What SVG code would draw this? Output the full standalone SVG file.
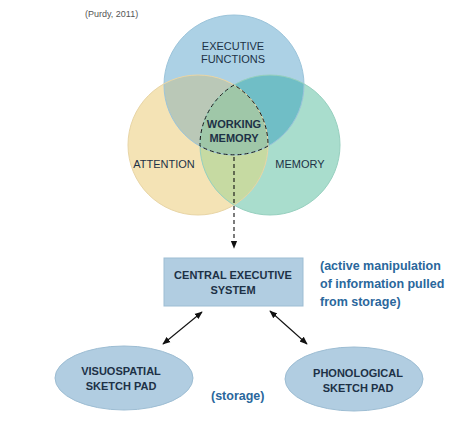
<svg xmlns="http://www.w3.org/2000/svg" width="472" height="424" viewBox="0 0 472 424">
<style>
.lbl{font-family:"Liberation Sans",Arial,sans-serif;font-size:11px;fill:#1d3146;text-anchor:middle}
.bold{font-weight:bold}
.note{font-family:"Liberation Sans",Arial,sans-serif;font-size:12.5px;font-weight:bold;fill:#2a679c}
.shape{fill:#b1cde1;stroke:#9dbdd3;stroke-width:1}
.conn{stroke:#111;stroke-width:1.1;fill:none}
.edge{fill:none;stroke-width:1}
</style>
<defs>
<marker id="ah" viewBox="0 0 10 10" refX="9" refY="5" markerWidth="8" markerHeight="8" orient="auto-start-reverse" markerUnits="userSpaceOnUse">
<path d="M0,1 L10,5 L0,9 Z" fill="#111"/>
</marker>
<clipPath id="cA"><circle cx="234" cy="85" r="70"/></clipPath>
<clipPath id="cB"><circle cx="198" cy="145" r="70"/></clipPath>
<clipPath id="cC"><circle cx="270" cy="145" r="70"/></clipPath>
</defs>
<rect width="472" height="424" fill="#ffffff"/>
<text x="85" y="17" font-family="Liberation Sans,Arial,sans-serif" font-size="9" fill="#555">(Purdy, 2011)</text>
<g id="executive-functions">
<circle cx="234" cy="85" r="70" fill="#acd1e5"/>
</g>
<g id="attention">
<circle cx="198" cy="145" r="70" fill="#f4e3b5"/>
</g>
<g id="memory">
<circle cx="270" cy="145" r="70" fill="#a9ddcd"/>
</g>
<g id="overlaps">
<circle cx="198" cy="145" r="70" fill="#bac8b7" clip-path="url(#cA)"/>
<circle cx="270" cy="145" r="70" fill="#70bec6" clip-path="url(#cA)"/>
<circle cx="270" cy="145" r="70" fill="#c6daa2" clip-path="url(#cB)"/>
<g clip-path="url(#cA)"><circle cx="270" cy="145" r="70" fill="#9fc7a8" clip-path="url(#cB)"/></g>
<circle class="edge" cx="234" cy="85" r="70" stroke="#9cc4da"/>
<circle class="edge" cx="198" cy="145" r="70" stroke="#e8d5a6"/>
<circle class="edge" cx="270" cy="145" r="70" stroke="#97d0bf"/>
</g>
<g id="working-memory">
<path d="M234,85 A70,70 0 0,0 200,146 A70,70 0 0,0 268,146 A70,70 0 0,0 234,85 Z" fill="none" stroke="#1a1a1a" stroke-width="1" stroke-dasharray="4,3"/>
<text class="lbl bold" x="234" y="128">WORKING</text>
<text class="lbl bold" x="234" y="142">MEMORY</text>
</g>
<g id="venn-labels">
<text class="lbl" x="233" y="50">EXECUTIVE</text>
<text class="lbl" x="233" y="63">FUNCTIONS</text>
<text class="lbl" x="164" y="168">ATTENTION</text>
<text class="lbl" x="300" y="168">MEMORY</text>
</g>
<g id="connectors">
<line class="conn" x1="234" y1="157" x2="234" y2="248" stroke-dasharray="4,3" marker-end="url(#ah)"/>
<line class="conn" x1="202" y1="312" x2="163" y2="344" marker-start="url(#ah)" marker-end="url(#ah)"/>
<line class="conn" x1="270" y1="311" x2="307" y2="344" marker-start="url(#ah)" marker-end="url(#ah)"/>
</g>
<g id="central-executive">
<rect class="shape" x="164" y="258" width="139" height="48"/>
<text class="lbl bold" x="233" y="279">CENTRAL EXECUTIVE</text>
<text class="lbl bold" x="233" y="294">SYSTEM</text>
</g>
<g id="annotation">
<text class="note" x="320" y="270">(active manipulation</text>
<text class="note" x="320" y="288">of information pulled</text>
<text class="note" x="320" y="306">from storage)</text>
</g>
<g id="visuospatial">
<ellipse class="shape" cx="124" cy="378" rx="69" ry="32"/>
<text class="lbl bold" x="121" y="375">VISUOSPATIAL</text>
<text class="lbl bold" x="121" y="390">SKETCH PAD</text>
</g>
<g id="phonological">
<ellipse class="shape" cx="354" cy="379" rx="69" ry="32"/>
<text class="lbl bold" x="358" y="377">PHONOLOGICAL</text>
<text class="lbl bold" x="358" y="392">SKETCH PAD</text>
</g>
<text class="note" x="211" y="400">(storage)</text>
</svg>
